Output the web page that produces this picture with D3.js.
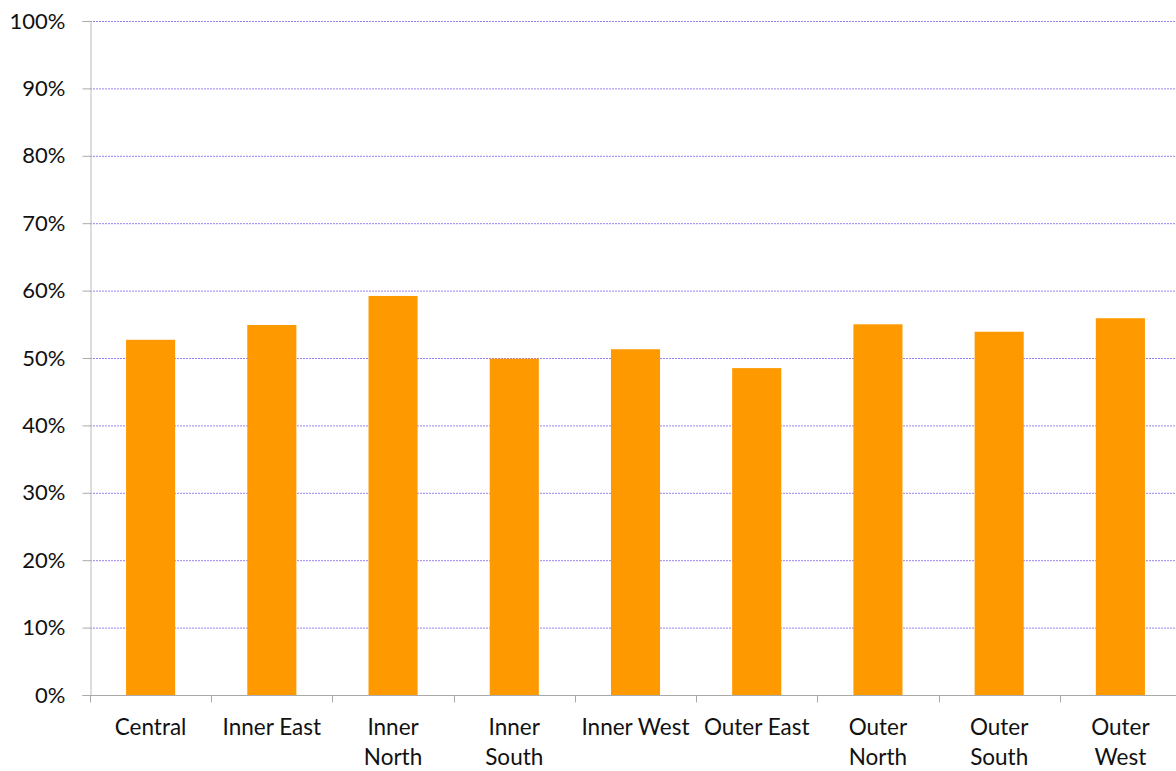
<!DOCTYPE html>
<html><head><meta charset="utf-8">
<script src="https://cdn.jsdelivr.net/npm/d3@7"></script>
<style>body{margin:0;background:#fff}svg{display:block}text{font-family:Lato,"Open Sans",sans-serif;fill:#111}</style>
</head><body><svg id="c" width="1176" height="771"></svg>
<script>
const categories = ["Central","Inner East","Inner North","Inner South","Inner West","Outer East","Outer North","Outer South","Outer West"];
const values = [52.7,54.9,59.2,49.9,51.3,48.5,55.0,53.9,55.9];
const yTicks = [0,10,20,30,40,50,60,70,80,90,100];

const svg = d3.select("#c");
const m = {l:90, r:-5, t:21, b:76};
const W = 1176, H = 771;
const x = d3.scaleBand().domain(categories).range([m.l, W - m.r]).paddingInner(0).paddingOuter(0);
const y = d3.scaleLinear().domain([0,100]).range([H - m.b, m.t]);

// grid
svg.append("g").selectAll("line").data(yTicks.filter(d=>d>0)).join("line")
  .attr("x1", m.l).attr("x2", W).attr("y1", d=>y(d)+0.5).attr("y2", d=>y(d)+0.5)
  .attr("stroke","#9b7fef").attr("stroke-width",1).attr("stroke-dasharray","2,1");

// bars
const bw = x.bandwidth()*0.405;
svg.append("g").selectAll("rect").data(values).join("rect")
  .attr("x",(d,i)=>x(categories[i]) + (x.bandwidth()-bw)/2)
  .attr("width", bw)
  .attr("y", d=>y(d)).attr("height", d=>y(0)-y(d))
  .attr("fill","#ff9900");

// y axis
const ya = svg.append("g").attr("transform",`translate(${m.l+0.5},0)`)
  .call(d3.axisLeft(y).tickValues(yTicks).tickFormat(d=>d+"%").tickSize(8).tickPadding(17));
ya.select(".domain").attr("stroke","#bbb");
ya.selectAll(".tick line").attr("stroke","#aaa");
ya.selectAll("text").style("font-size","22px");

// x axis
const xa = svg.append("g").attr("transform",`translate(0,${y(0)+0.5})`);
xa.append("line").attr("x1",m.l).attr("x2",W).attr("stroke","#aaa");
const bounds = categories.map(c=>x(c));
xa.selectAll("line.tk").data(bounds).join("line").attr("class","tk")
  .attr("x1",d=>Math.round(d)+0.5).attr("x2",d=>Math.round(d)+0.5).attr("y1",0).attr("y2",7).attr("stroke","#aaa");
const lbl = xa.selectAll("text").data(categories).join("text")
  .attr("x", d=>x(d)+x.bandwidth()/2).attr("y", 39)
  .attr("text-anchor","middle").style("font-size","22.5px");
lbl.each(function(d){
  const t = d3.select(this);
  const wrap = !["Central","Inner East","Inner West","Outer East"].includes(d);
  if(wrap){
    const parts = d.split(" ");
    parts.forEach((p,i)=>t.append("tspan").attr("x", x(d)+x.bandwidth()/2).attr("dy", i?30:0).text(p));
  } else t.text(d);
});
</script></body></html>
